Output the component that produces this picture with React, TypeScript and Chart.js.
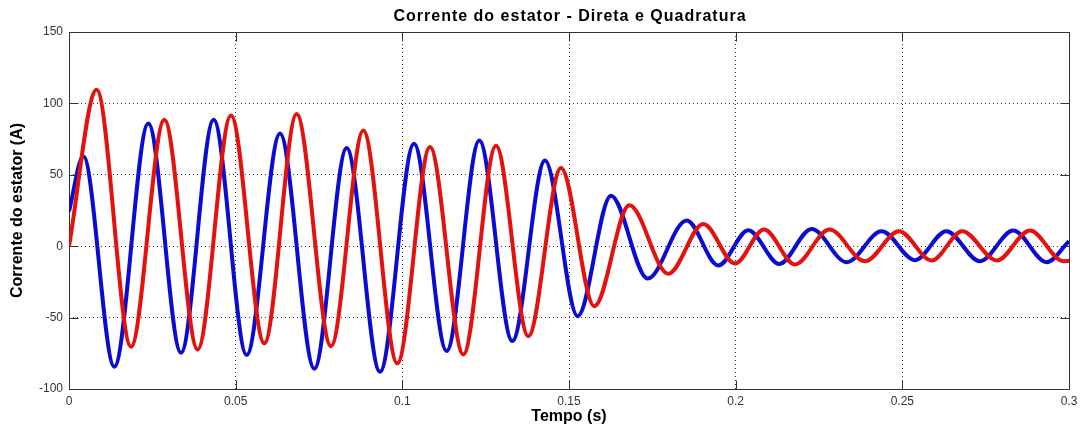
import { useEffect, useRef } from "react";
import { Chart, registerables } from "chart.js";

Chart.register(...registerables);

// Stator current, direct axis (blue): times (s) and currents (A) at start, extrema and end
const blueTimes = [
  0, 0.0043, 0.0136, 0.0238, 0.0336, 0.0434, 0.0533, 0.0633, 0.0736, 0.0833,
  0.0933, 0.1035, 0.1133, 0.1231, 0.133, 0.1428, 0.1526, 0.1626, 0.1736, 0.1853,
  0.1948, 0.2038, 0.2131, 0.2228, 0.2333, 0.2438, 0.2538, 0.2632, 0.2733, 0.2833,
  0.2933, 0.3,
];
const blueValues = [
  24.5, 63, -84.4, 86, -74.6, 88.6, -76.2, 79, -85.8, 68.7,
  -88, 71.8, -73.4, 74, -66.4, 60, -49, 35.4, -22.6, 18,
  -13.5, 11.2, -12.4, 12.1, -11.2, 10.5, -9.8, 10.5, -10.5, 11,
  -11.2, 3.5,
];

// Stator current, quadrature axis (red)
const redTimes = [
  0, 0.0083, 0.0186, 0.0286, 0.0386, 0.0486, 0.0586, 0.0683, 0.0786, 0.0883,
  0.0985, 0.1083, 0.1183, 0.1281, 0.1378, 0.1476, 0.1576, 0.1681, 0.1798, 0.1903,
  0.1998, 0.2085, 0.2178, 0.2281, 0.2388, 0.249, 0.2588, 0.268, 0.2783, 0.2883,
  0.2983, 0.3,
];
const redValues = [
  0, 109.6, -70.4, 88.6, -72.3, 91.6, -68, 92.5, -70, 81,
  -82, 69.5, -75.8, 70.4, -63, 54.8, -42, 28.7, -19.3, 15.6,
  -12.2, 11.7, -12.8, 11.7, -10.5, 10.5, -10, 10.5, -10, 11,
  -10.5, -10.4,
];

// Axis limits and tick steps
const xLimits = [0, 0.3];
const xStep = 0.05;
const yLimits = [-100, 150];
const yStep = 50;

const titleText = "Corrente do estator - Direta e Quadratura";
const xAxisLabel = "Tempo (s)";
const yAxisLabel = "Corrente do estator (A)";

const FONT = '"Liberation Sans", Arial, Helvetica, sans-serif';
const AXIS_COLOR = "#333333";
const TICK_LEN = 9;

const toPoints = (ts: number[], vs: number[]) => ts.map((t, i) => ({ x: t, y: vs[i] }));

// Bold title above the axes box
const titlePlugin = {
  id: "axesTitle",
  afterDraw(chart: any) {
    const { ctx, chartArea } = chart;
    ctx.save();
    ctx.font = `bold 16px ${FONT}`;
    try {
      (ctx as any).letterSpacing = "1px";
    } catch (e) {}
    ctx.fillStyle = "#000";
    ctx.textAlign = "center";
    ctx.textBaseline = "alphabetic";
    ctx.fillText(titleText, (chartArea.left + chartArea.right) / 2 + 1, 21);
    ctx.restore();
  },
};

// Box around the axes with inward tick marks on all four sides
const framePlugin = {
  id: "axesFrame",
  beforeDatasetsDraw(chart: any) {
    const { ctx, chartArea, scales } = chart;
    const left = Math.round(chartArea.left) + 0.5;
    const right = Math.round(chartArea.right) + 0.5;
    const top = Math.round(chartArea.top) + 0.5;
    const bottom = Math.round(chartArea.bottom) + 0.5;
    ctx.save();
    ctx.strokeStyle = AXIS_COLOR;
    ctx.lineWidth = 1;
    ctx.beginPath();
    scales.x.ticks.forEach((t: any) => {
      const px = Math.round(scales.x.getPixelForValue(t.value)) + 0.5;
      ctx.moveTo(px, bottom);
      ctx.lineTo(px, bottom - TICK_LEN);
      ctx.moveTo(px, top);
      ctx.lineTo(px, top + TICK_LEN);
    });
    scales.y.ticks.forEach((t: any) => {
      const py = Math.round(scales.y.getPixelForValue(t.value)) + 0.5;
      ctx.moveTo(left, py);
      ctx.lineTo(left + TICK_LEN, py);
      ctx.moveTo(right, py);
      ctx.lineTo(right - TICK_LEN, py);
    });
    ctx.stroke();
    ctx.strokeRect(left, top, right - left, bottom - top);
    ctx.restore();
  },
};

const fmt = (v: number) => String(Number(v.toFixed(3)));

export default function App() {
  const canvasRef = useRef<HTMLCanvasElement | null>(null);

  useEffect(() => {
    document.body.style.margin = "0";
    const canvas = canvasRef.current;
    if (!canvas) return;
    const chart = new Chart(canvas, {
      type: "line",
      data: {
        datasets: [
          {
            label: "Quadratura",
            data: toPoints(redTimes, redValues),
            borderColor: "#e3120f",
            borderWidth: 4,
            pointRadius: 0,
            fill: false,
            cubicInterpolationMode: "monotone",
          },
          {
            label: "Direta",
            data: toPoints(blueTimes, blueValues),
            borderColor: "#0b0bd2",
            borderWidth: 4,
            pointRadius: 0,
            fill: false,
            cubicInterpolationMode: "monotone",
          },
        ],
      },
      options: {
        responsive: false,
        animation: false,
        events: [],
        layout: { padding: { top: 32, right: 16, left: 0, bottom: 0 } },
        plugins: {
          legend: { display: false },
          tooltip: { enabled: false },
          title: { display: false },
        },
        scales: {
          x: {
            type: "linear",
            min: xLimits[0],
            max: xLimits[1],
            ticks: {
              stepSize: xStep,
              color: AXIS_COLOR,
              font: { family: FONT, size: 12 },
              padding: 5,
              maxRotation: 0,
              callback: (v: any) => fmt(Number(v)),
            },
            grid: { color: "rgba(0,0,0,0.8)", lineWidth: 1, drawTicks: false },
            border: { display: false, dash: [1, 3] },
            title: {
              display: true,
              text: xAxisLabel,
              color: "#000",
              font: { family: FONT, size: 16, weight: "bold" },
              padding: { top: 0, bottom: 5.5 },
            },
            afterFit(scale: any) {
              scale.height = 43;
            },
          },
          y: {
            type: "linear",
            min: yLimits[0],
            max: yLimits[1],
            ticks: {
              stepSize: yStep,
              color: AXIS_COLOR,
              font: { family: FONT, size: 12 },
              padding: 6,
              callback: (v: any) => fmt(Number(v)),
            },
            grid: { color: "rgba(0,0,0,0.8)", lineWidth: 1, drawTicks: false },
            border: { display: false, dash: [1, 3] },
            title: {
              display: true,
              text: yAxisLabel,
              color: "#000",
              font: { family: FONT, size: 16, weight: "bold" },
              padding: { top: 8.4, bottom: 0 },
            },
            afterFit(scale: any) {
              scale.width = 69;
            },
          },
        },
      } as any,
      plugins: [framePlugin, titlePlugin],
    });
    return () => chart.destroy();
  }, []);

  return (
    <div style={{ position: "absolute", left: 0, top: 0, width: 1085, height: 432, background: "#fff" }}>
      <canvas ref={canvasRef} width={1085} height={432} style={{ display: "block" }} />
    </div>
  );
}
